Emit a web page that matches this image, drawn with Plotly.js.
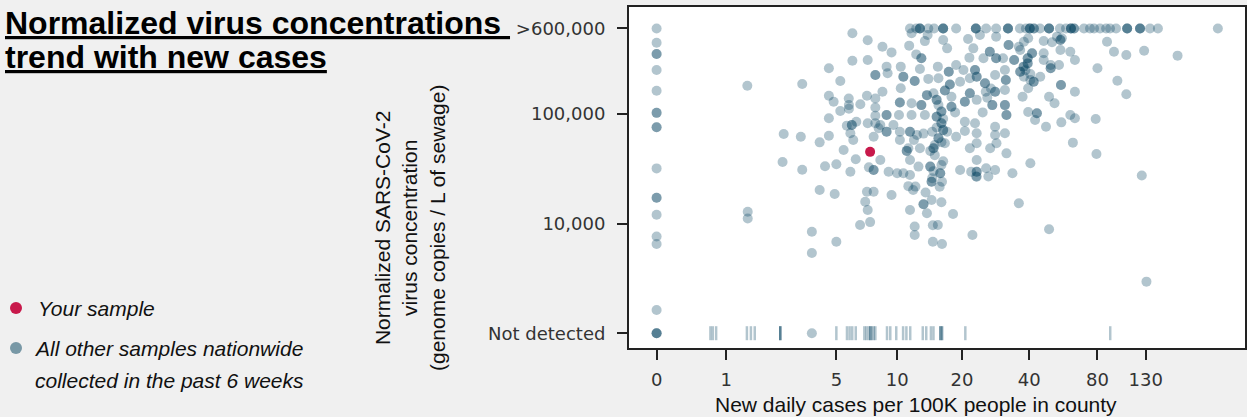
<!DOCTYPE html>
<html>
<head>
<meta charset="utf-8">
<script src="https://cdn.plot.ly/plotly-3.0.1.min.js"></script>
<style>
html,body{margin:0;padding:0;background:#f0f0f0;}
#chart{width:1247px;height:417px;}
</style>
</head>
<body>
<div id="chart"></div>
<script>
// ---------------- DATA ----------------
const xTickValues = [0, 1, 5, 10, 20, 40, 80, 130];
const xTickLabels = ['0', '1', '5', '10', '20', '40', '80', '130'];
const yTickValues = [1000, 10000, 100000, 600000];
const yTickLabels = ['Not detected', '10,000', '100,000', '>600,000'];

// Your sample
const yourCases = [7.4];
const yourConc = [45000];

// All other samples (new daily cases per 100K, copies / L)
const otherCases = [
  0,0,0,0,0,0,0,0,0,0,
  0,0,0,0,0,0,0,0,0,0,
  1.47,3.27,2.55,3.21,2.51,3.27,4.08,4.57,4.57,4.57,
  4.57,5.24,4.84,5.24,5.45,5.0,4.36,6.04,6.04,7.2,
  7.2,7.85,7.85,7.14,7.85,6.62,5.79,5.8,5.8,7.85,
  7.85,7.85,7.2,6.32,6.0,6.0,5.66,5.9,6.1,8.15,
  7.7,6.28,5.9,7.3,7.7,7.7,
  4.08,4.9,1.48,1.48,3.7,3.7,5.0,7.14,7.7,7.0,
  7.2,6.6,7.4,9.4,11.5,12.1,12.1,13.3,13.3,13.8,
  11.9,13.6,14.5,14.7,14.7,14.5,14.5,11.3,12.2,3.7,
  11.7,13.9,16.4,21.3,24.1,28.5,13.5,8.5,9.4,11.4,
  12.3,13.0,13.0,17.1,22.5,26.7,26.7,25.0,28.5,28.5,
  21.6,18.8,20.3,22.9,22.9,23.3,23.3,17.4,17.4,15.5,
  12.8,10.4,8.9,9.0,10.7,10.7,12.1,12.1,14.0,15.6,
  17.6,17.6,16.7,16.7,19.6,21.7,25.4,25.4,28.2,31.2,
  31.5,31.5,28.2,28.2,25.6,21.7,21.7,20.6,20.6,23.3,
  24.8,27.4,27.4,31.2,31.2,31.7,13.8,13.8,14.8,15.3,
  15.3,17.9,17.9,17.9,18.6,16.1,16.1,15.3,15.3,16.1,
  16.1,16.4,16.4,15.6,15.6,15.0,13.3,14.6,17.1,18.8,
  20.6,22.9,23.3,20.6,12.4,11.5,11.5,12.0,10.3,8.9,
  8.9,8.3,9.6,10.3,10.3,11.7,13.0,13.0,8.9,8.9,
  10.2,11.7,8.5,10.4,13.5,11.3,11.1,11.1,10.3,12.8,
  14.3,14.8,14.8,16.7,21.7,23.3,26.8,28.6,28.2,31.7,
  28.2,11.5,12.6,14.3,14.3,16.1,15.9,15.9,14.6,9.1,
  10.0,10.7,11.5,19.6,22.0,23.3,23.3,23.3,25.7,28.2,
  23.3,8.3,31.2,31.7,31.2,30.6,32.4,32.4,
  15.6,16.4,15.3,16.1,15.0,16.4,14.8,27.0,26.0,38.5,40.5,
  36,39.6,37.9,46.4,50.5,53.1,55.8,88.1,36.5,34.3,
  34.3,41.2,41.2,39.4,39.4,46.4,46.4,55,60.8,63.7,
  55,55,49.8,49.8,49.8,54.2,39.4,39.4,37.8,37.8,
  36.5,36.5,37.9,40.5,44.8,41.9,41.9,39.6,43.3,43.3,
  42.5,47.5,49.0,51.8,39.6,37.4,55.3,55.3,63.7,60.8,
  63.7,55.5,78.6,80,62.4,79.2,97.8,107,94.5,107,
  128,179,33.7,40.5,125,
  16.2,15.8,23.2,26.3,16.1,18.2,15.5,22.3,16.2,36.0,
  49,131
];
const otherConc = [
  600000,445000,351000,351000,251000,162000,102000,102000,75300,75300,
  31800,17200,17200,12000,7600,6500,1630,1000,1000,1000,
  180000,187000,65500,61800,36400,30900,54900,63100,91000,146000,
  260000,199000,129000,106000,46800,34700,33200,542000,305000,468000,
  309000,226000,226000,146000,138000,122000,138000,120000,111000,114000,
  96000,81900,81900,84700,79000,79000,78000,66400,57700,73800,
  61800,38500,29600,32500,30700,30700,
  20200,18600,12800,11100,8400,5380,6820,19500,19500,15800,
  13300,9700,10300,18200,13300,9400,7860,15000,15000,12400,
  20200,19200,16400,9650,6820,24000,24000,21900,21700,1000,
  542000,523000,471000,481000,523000,505000,460000,409000,363000,418000,
  348000,321000,321000,395000,395000,368000,368000,321000,321000,321000,
  325000,279000,251000,251000,251000,218000,218000,242000,242000,269000,
  256000,269000,269000,234000,218000,218000,199000,199000,208000,211000,
  185000,185000,163000,163000,196000,211000,190000,190000,226000,251000,
  203000,203000,159000,159000,159000,154000,154000,129000,129000,134000,
  103000,120000,120000,120000,120000,97500,148000,148000,154000,134000,
  134000,143000,116000,116000,103000,105000,105000,94000,94000,82000,
  82000,71000,71000,60000,60000,52000,66000,68700,68700,61800,
  69700,82000,66400,84700,64100,68700,68700,57700,68700,68700,
  68700,79000,79000,127000,127000,125000,120000,120000,97500,97500,
  97500,97500,159000,171000,97500,48500,45900,45900,57700,48500,
  45900,48500,48500,53900,48500,53900,48500,53900,64100,43600,
  76300,37900,33000,33000,33000,34100,28700,28700,25900,29600,
  28700,28700,27700,30700,29600,29600,29600,37900,31900,30700,
  26700,37900,165000,97500,66400,321000,424000,424000,
  120000,90000,75000,55000,42000,37000,30000,170000,140000,250000,230000,
  409000,488000,454000,461000,449000,505000,488000,454000,382000,309000,
  309000,356000,356000,321000,321000,356000,309000,382000,368000,309000,
  471000,471000,279000,260000,260000,279000,288000,288000,269000,269000,
  242000,242000,218000,203000,218000,196000,196000,104000,101000,101000,
  87800,76300,143000,125000,171000,143000,183000,183000,159000,97500,
  91000,83600,89800,260000,54600,43000,200000,151000,368000,344000,
  376000,339000,28700,35400,27400,
  24000,21600,26800,26800,15600,12200,9700,7860,6500,15300,
  8860,2950
];

// Samples above the >600,000 cap
const cappedCases = [
  11.5,12.3,12.8,12.8,12.8,14.0,14.9,16.4,16.4,16.4,
  18.8,23.1,23.1,23.1,25.7,28.5,32.2,32.2,32.2,36.4,
  38.7,40.3,40.3,40.3,42.0,42.0,44.7,49.0,49.0,49.0,
  54.7,58.2,61.2,61.2,61.2,63.2,63.2,69.8,74.2,77.3,
  82.1,87.3,90.8,96.5,107.9,107.9,107.9,122.8,122.8,122.8,
  135.8,147,268
];
const cappedConc = [
  600000,600000,600000,600000,600000,600000,600000,600000,600000,600000,
  600000,600000,600000,600000,600000,600000,600000,600000,600000,600000,
  600000,600000,600000,600000,600000,600000,600000,600000,600000,600000,
  600000,600000,600000,600000,600000,600000,600000,600000,600000,600000,
  600000,600000,600000,600000,600000,600000,600000,600000,600000,600000,
  600000,600000,600000
];

// Not detected samples (drawn as rug ticks)
const ndCases = [
  0.71,0.75,0.81,1.46,1.56,1.66,2.43,2.43,2.43,5.0,
  5.67,5.85,6.03,6.28,6.93,7.09,7.28,7.42,7.42,7.56,
  7.71,7.85,8.94,9.27,9.9,10.67,11.06,11.53,13.2,13.7,
  14.4,14.8,15.9,15.9,16.2,16.2,20.7,91
];
const ndConc = [
  1000,1000,1000,1000,1000,1000,1000,1000,1000,1000,
  1000,1000,1000,1000,1000,1000,1000,1000,1000,1000,
  1000,1000,1000,1000,1000,1000,1000,1000,1000,1000,
  1000,1000,1000,1000,1000,1000,1000,1000
];

// ---------------- SCALE ----------------
// x axis: log10(cases + 1)
const xt = v => Math.log10(v + 1);

const W = 1247, H = 417;
const M = {l: 629, r: 2, t: 7, b: 69};
const plotW = W - M.l - M.r, plotH = H - M.t - M.b;
const px = x => (x - M.l) / plotW;
const py = y => (H - M.b - y) / plotH;

const BASE = 'rgba(0,63,92,0.3)';
const RED = '#c8194b';

const traces = [
  {
    type: 'scatter', mode: 'markers',
    x: ndCases.map(xt), y: ndConc,
    marker: {symbol: 'line-ns', size: 10, color: BASE, line: {width: 2.5, color: BASE}},
    hoverinfo: 'skip', showlegend: false
  },
  {
    type: 'scatter', mode: 'markers',
    x: otherCases.map(xt), y: otherConc,
    marker: {symbol: 'circle', size: 10, color: BASE, line: {width: 0}},
    hoverinfo: 'skip', showlegend: false
  },
  {
    type: 'scatter', mode: 'markers',
    x: cappedCases.map(xt), y: cappedConc,
    marker: {symbol: 'circle', size: 10, color: BASE, line: {width: 0}},
    hoverinfo: 'skip', showlegend: false
  },
  {
    type: 'scatter', mode: 'markers',
    x: yourCases.map(xt), y: yourConc,
    marker: {symbol: 'circle', size: 10, color: RED, line: {width: 0}},
    hoverinfo: 'skip', showlegend: false
  }
];

const tickFont = {family: 'DejaVu Sans', size: 18, color: '#333333'};
const textFont = {family: 'Liberation Sans, Arial, sans-serif', size: 21, color: '#111111'};
const titleFont = {family: 'Liberation Sans, Arial, sans-serif', size: 32, color: '#000000'};

const layout = {
  width: W, height: H,
  margin: M,
  paper_bgcolor: '#f0f0f0',
  plot_bgcolor: '#ffffff',
  showlegend: false,
  hovermode: false,
  xaxis: {
    type: 'linear',
    range: [-0.1195, 2.5472],
    tickmode: 'array',
    tickvals: xTickValues.map(xt),
    ticktext: xTickLabels,
    ticks: 'outside', ticklen: 10, tickwidth: 2, tickcolor: '#222222',
    ticklabelstandoff: 4,
    showline: true, mirror: true, linecolor: '#222222', linewidth: 2,
    showgrid: false, zeroline: false,
    tickfont: tickFont
  },
  yaxis: {
    type: 'log',
    range: [2.8651, 5.9736],
    tickmode: 'array',
    tickvals: yTickValues,
    ticktext: yTickLabels,
    ticks: 'outside', ticklen: 10, tickwidth: 2, tickcolor: '#222222',
    ticklabelstandoff: 8,
    showline: true, mirror: true, linecolor: '#222222', linewidth: 2,
    showgrid: false, zeroline: false,
    tickfont: tickFont
  },
  annotations: [
    {text: '<b><u>Normalized virus concentrations\u00a0</u></b>', xref: 'paper', yref: 'paper',
     x: px(3), y: py(23), xanchor: 'left', yanchor: 'middle', showarrow: false, font: titleFont},
    {text: '<b><u>trend with new cases</u></b>', xref: 'paper', yref: 'paper',
     x: px(3), y: py(57), xanchor: 'left', yanchor: 'middle', showarrow: false, font: titleFont},
    {text: 'Normalized SARS-CoV-2<br>virus concentration<br>(genome copies / L of sewage)',
     xref: 'paper', yref: 'paper', x: px(410), y: py(228), xanchor: 'center', yanchor: 'middle',
     textangle: -90, showarrow: false, align: 'center', font: textFont},
    {text: 'New daily cases per 100K people in county', xref: 'paper', yref: 'paper',
     x: px(915.5), y: py(404), xanchor: 'center', yanchor: 'middle', showarrow: false, font: textFont},
    {text: '<i>Your sample</i>', xref: 'paper', yref: 'paper',
     x: px(36), y: py(308), xanchor: 'left', yanchor: 'middle', showarrow: false, font: textFont},
    {text: '<i>All other samples nationwide</i>', xref: 'paper', yref: 'paper',
     x: px(32), y: py(348.5), xanchor: 'left', yanchor: 'middle', showarrow: false, font: textFont},
    {text: '<i>collected in the past 6 weeks</i>', xref: 'paper', yref: 'paper',
     x: px(33), y: py(380.5), xanchor: 'left', yanchor: 'middle', showarrow: false, font: textFont}
  ],
  shapes: [
    {type: 'circle', xref: 'paper', yref: 'paper', xsizemode: 'pixel', ysizemode: 'pixel',
     xanchor: px(16), yanchor: py(308), x0: -6, x1: 6, y0: -6, y1: 6,
     fillcolor: RED, line: {width: 0}},
    {type: 'circle', xref: 'paper', yref: 'paper', xsizemode: 'pixel', ysizemode: 'pixel',
     xanchor: px(16), yanchor: py(348), x0: -6, x1: 6, y0: -6, y1: 6,
     fillcolor: 'rgba(0,63,92,0.5)', line: {width: 0}}
  ]
};

Plotly.newPlot('chart', traces, layout, {displayModeBar: false, staticPlot: true});
</script>
</body>
</html>
